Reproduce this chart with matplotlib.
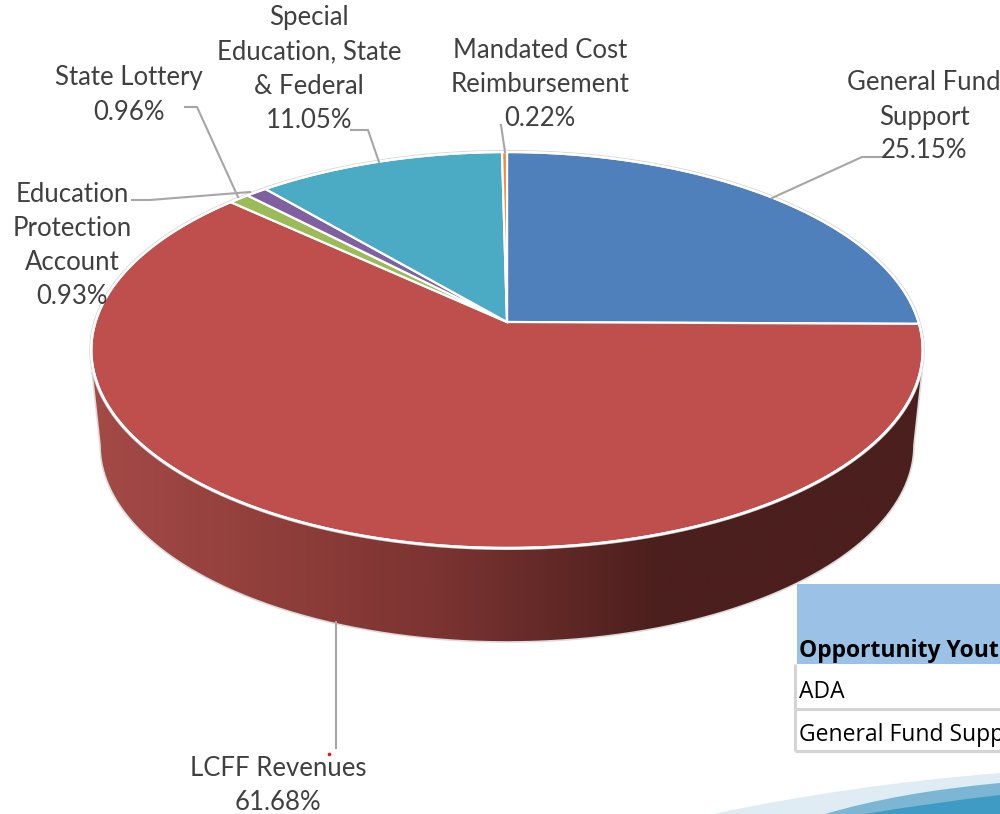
import numpy as np
import matplotlib
matplotlib.use("Agg")
import matplotlib.pyplot as plt
from matplotlib.path import Path
from matplotlib.patches import PathPatch, Rectangle
from matplotlib.colors import LinearSegmentedColormap

categories = ["General Fund\nSupport", "LCFF Revenues", "Education\nProtection\nAccount",
              "State Lottery", "Special\nEducation, State\n& Federal", "Mandated Cost\nReimbursement"]
shares = [25.15, 61.68, 0.93, 0.96, 11.05, 0.22]
colors = ["#4f80bb", "#bf4f4c", "#9bbb59", "#7f60a0", "#4baac4", "#f08a3c"]
table_header = "Opportunity Youth"
table_rows = ["ADA", "General Fund Support"]

FONT = "Lato"
TEXT = "#404040"
fig = plt.figure(figsize=(10, 8.14), dpi=100)
ax = fig.add_axes([0, 0, 1, 1])
ax.set_xlim(0, 1000)
ax.set_ylim(814, 0)
ax.axis("off")

# tilted disc: perspective projection of a unit circle
CX, CY, A, B, K = 507, 322, 411.5, 194, -0.1414
def project(theta):
    u, v = np.sin(theta), -np.cos(theta)
    w = 1 + K * v
    return CX + A * u / w, CY + B * v / w

t = np.linspace(0, 2 * np.pi, 721)
rx, ry = project(t)

# side wall with horizontal shading
BX, BY, BA, BB = 507, 445, 407, 197
a = np.linspace(0, np.pi, 361)
wx = np.r_[92, BX - BA * np.cos(a), 922]
wy = np.r_[372, BY + BB * np.sin(a), 372]
wall = PathPatch(Path(np.c_[wx, wy]), fc="none", ec="#dcdcdc", lw=1.2, zorder=2)
ax.add_patch(wall)
cmap = LinearSegmentedColormap.from_list("wall", [(0, "#a44a47"), (0.22, "#903e3b"),
                                                  (0.42, "#7b3331"), (0.68, "#4c1f1d"), (1, "#4b1f1d")])
im = ax.imshow(np.linspace(0, 1, 512)[None, :], cmap=cmap, extent=(92, 922, 660, 340),
               aspect="auto", zorder=1)
im.set_clip_path(wall)
ax.set_xlim(0, 1000)
ax.set_ylim(814, 0)

# outer halo then top slices
ax.plot(rx, ry, color="#d8d8d8", lw=3.0, zorder=3)
start = 0.0
for s, c in zip(shares, colors):
    end = start + s / sum(shares) * 2 * np.pi
    th = np.linspace(start, end, max(int(s * 10), 4))
    x, y = project(th)
    ax.fill(np.r_[CX, x], np.r_[CY, y], fc=c, ec="white", lw=1.6, joinstyle="miter", zorder=4)
    start = end
ax.plot(rx, ry, color="white", lw=1.6, zorder=5)

# leader lines
leaders = [([882, 862, 772], [157, 157, 198]),
           ([351, 368, 379], [130, 130, 162]),
           ([501, 505], [125, 152]),
           ([185, 197, 238], [107, 107, 197]),
           ([132, 150, 250], [200, 200, 192]),
           ([336, 336], [622, 748])]
for lx, ly in leaders:
    ax.plot(lx, ly, color="#a6a6a6", lw=1.5, zorder=6, solid_joinstyle="round")
ax.plot([329], [754], "o", color="#ee1111", ms=2.6, mew=0, zorder=6)

# data labels
label_pos = [(924, 83), (278, 768), (72, 194), (129, 78), (309, 18), (540, 51)]
for name, share, (lx, ly) in zip(categories, shares, label_pos):
    for i, line in enumerate(name.split("\n") + [f"{share:.2f}%"]):
        ax.text(lx, ly + i * 34, line, ha="center", va="center", family=FONT, fontsize=18.5,
                color=TEXT, zorder=7)

# inset table
ax.add_patch(Rectangle((797, 584), 203, 80, fc="#9bc2e6", ec="none", zorder=3))
for x0, x1, y0, y1 in [(795, 795, 664, 751), (795, 1000, 709, 709), (795, 1000, 751, 751)]:
    ax.plot([x0, x1], [y0, y1], color="#d4d4d4", lw=2.2, zorder=3, solid_capstyle="butt")
ax.text(799, 651, table_header, ha="left", va="center", family="Open Sans", fontweight="bold",
        fontsize=16.5, color="black", zorder=7)
for y, row in zip([692, 735], table_rows):
    ax.text(799, y, row, ha="left", va="center", family="Open Sans", fontsize=16.5,
            color="black", zorder=7)

# decorative swoosh, bottom right
for p0, p1, p2, c in [((713, 814), (850, 785), (1000, 773), "#dfecf4"),
                      ((825, 814), (900, 792), (1000, 783), "#7db6d4"),
                      ((865, 814), (930, 803), (1000, 795), "#3f9bc3")]:
    verts = [p0, p1, p2, (1000, 814), p0]
    codes = [Path.MOVETO, Path.CURVE3, Path.CURVE3, Path.LINETO, Path.CLOSEPOLY]
    ax.add_patch(PathPatch(Path(verts, codes), fc=c, ec="none", zorder=2))

fig.savefig("out.png", dpi=100, facecolor="white")
